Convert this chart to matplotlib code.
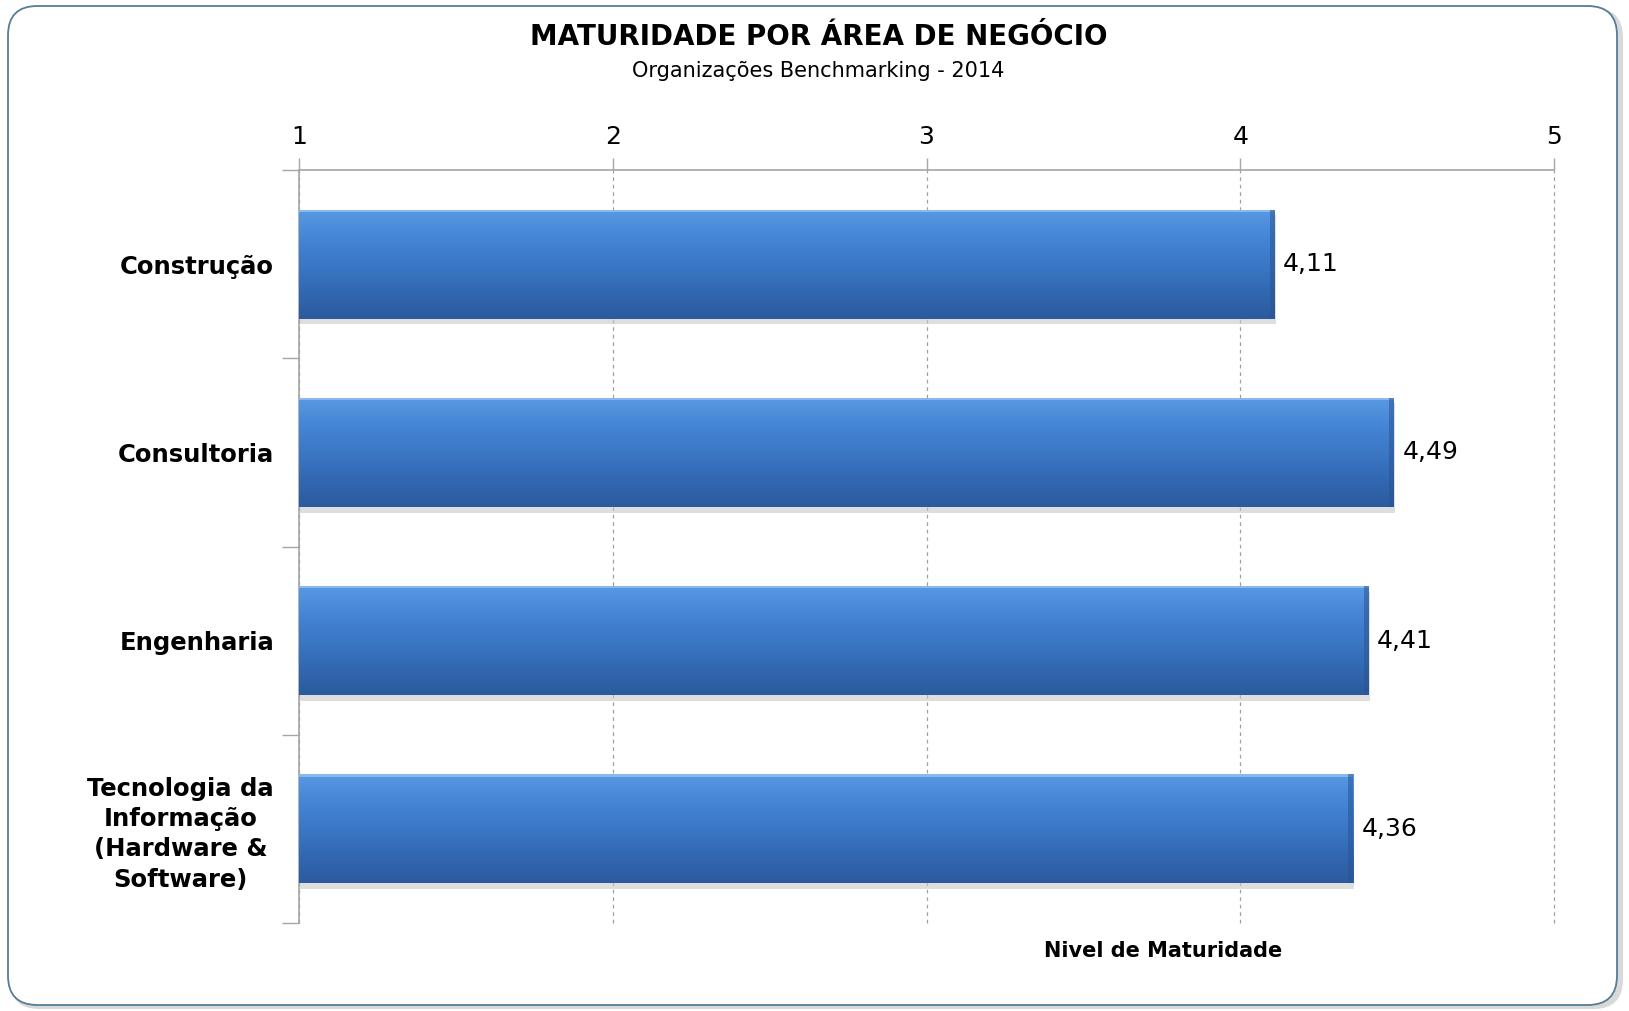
import numpy as np
import matplotlib
matplotlib.use("Agg")
import matplotlib.pyplot as plt
from matplotlib.patches import FancyBboxPatch, Rectangle
from matplotlib.colors import LinearSegmentedColormap

# Data
categories = [
    "Construção",
    "Consultoria",
    "Engenharia",
    "Tecnologia da\nInformação\n(Hardware &\nSoftware)",
]
values = [4.11, 4.49, 4.41, 4.36]
value_labels = ["4,11", "4,49", "4,41", "4,36"]
x_ticks = [1, 2, 3, 4, 5]

title = "MATURIDADE POR ÁREA DE NEGÓCIO"
subtitle = "Organizações Benchmarking - 2014"
x_title = "Nivel de Maturidade"

plt.rcParams["font.family"] = ["DejaVu Sans"]

W, H = 1629, 1011
fig = plt.figure(figsize=(W / 100, H / 100), dpi=100)
fig.patch.set_facecolor("white")

# Rounded outer frame with a soft shadow
shadow = FancyBboxPatch((10 / W, 2 / H), (W - 16) / W, (H - 10) / H,
                        boxstyle="round,pad=0,rounding_size=0.018",
                        transform=fig.transFigure, facecolor="#d9d9d9",
                        edgecolor="none", zorder=0, mutation_aspect=W / H)
fig.patches.append(shadow)
frame = FancyBboxPatch((8 / W, 6 / H), (W - 20) / W, (H - 12) / H,
                       boxstyle="round,pad=0,rounding_size=0.018",
                       transform=fig.transFigure, facecolor="white",
                       edgecolor="#557d98", linewidth=1.3, zorder=1,
                       mutation_aspect=W / H)
fig.patches.append(frame)

left, right, top, bottom = 299, 1554, 170, 923
ax = fig.add_axes([left / W, 1 - bottom / H, (right - left) / W, (bottom - top) / H])
ax.set_facecolor("none")
ax.set_zorder(2)

n = len(categories)
ypos = np.arange(n)
ax.set_xlim(x_ticks[0], x_ticks[-1])
ax.set_ylim(n - 0.5, -0.5)

# Axes styling: ticks on top, dashed vertical gridlines
ax.xaxis.tick_top()
ax.set_xticks(x_ticks)
ax.set_xticklabels([str(t) for t in x_ticks], fontsize=18)
ax.tick_params(axis="x", which="major", length=9, width=1, color="#a6a6a6",
               pad=6, direction="out")
ax.grid(axis="x", linestyle=(0, (3, 3)), color="#a0a0a0", linewidth=0.9)
for gl in ax.get_xgridlines():
    gl.set_clip_on(False)
ax.set_axisbelow(True)

for s in ["bottom", "right"]:
    ax.spines[s].set_visible(False)
for s in ["top", "left"]:
    ax.spines[s].set_color("#a6a6a6")
    ax.spines[s].set_linewidth(1.2)

ax.set_yticks(ypos)
ax.set_yticklabels(categories, fontsize=17.5, fontweight="bold",
                   multialignment="center", linespacing=1.32)
ax.tick_params(axis="y", which="major", length=0, pad=18)
ax.set_yticks(np.arange(-0.5, n, 1), minor=True)
ax.tick_params(axis="y", which="minor", length=12, width=1, color="#a6a6a6")

# Gradient-filled bars
cmap = LinearSegmentedColormap.from_list(
    "barblue", ["#5a9ae3", "#4586d6", "#3b78c6", "#3268b2", "#2b5b9e"])
grad = np.linspace(0, 1, 256).reshape(-1, 1)
bar_h = 0.58
bars = ax.barh(ypos, [v - x_ticks[0] for v in values], left=x_ticks[0],
               height=bar_h, color="none", edgecolor="none", zorder=3)
for bar, label in zip(bars, value_labels):
    x0, y0 = bar.get_x(), bar.get_y()
    w, h = bar.get_width(), bar.get_height()
    # faint drop shadow
    ax.add_patch(Rectangle((x0 + 0.004, y0 + 0.03), w, h, facecolor="#c8c8c8",
                           edgecolor="none", zorder=2.5, alpha=0.6))
    im = ax.imshow(grad, cmap=cmap, aspect="auto",
                   extent=(x0, x0 + w, y0 + h, y0), zorder=3,
                   interpolation="bicubic")
    clip = Rectangle((x0, y0), w, h, transform=ax.transData)
    im.set_clip_path(clip)
    # bevel: light top edge, darker right edge
    ax.add_patch(Rectangle((x0, y0), w, 0.012, facecolor="#8dbcf0",
                           edgecolor="none", zorder=4, alpha=0.9))
    ax.add_patch(Rectangle((x0 + w - 0.015, y0), 0.015, h, facecolor="#2a5590",
                           edgecolor="none", zorder=4, alpha=0.55))
    ax.annotate(label, (x0 + w, y0 + h / 2), xytext=(6, 0),
                textcoords="offset points", ha="left", va="center",
                fontsize=18, color="black", zorder=5)

# Titles
cx = 0.5 * (530 + 1107) / W
fig.text(cx, 1 - 37 / H, title, ha="center", va="center",
         fontsize=20, fontweight="bold")
fig.text(cx, 1 - 71 / H, subtitle, ha="center", va="center",
         fontsize=15)
fig.text(1163 / W, 1 - 951 / H, x_title, ha="center", va="center",
         fontsize=15, fontweight="bold")

fig.savefig("out.png", dpi=100, facecolor="white")
